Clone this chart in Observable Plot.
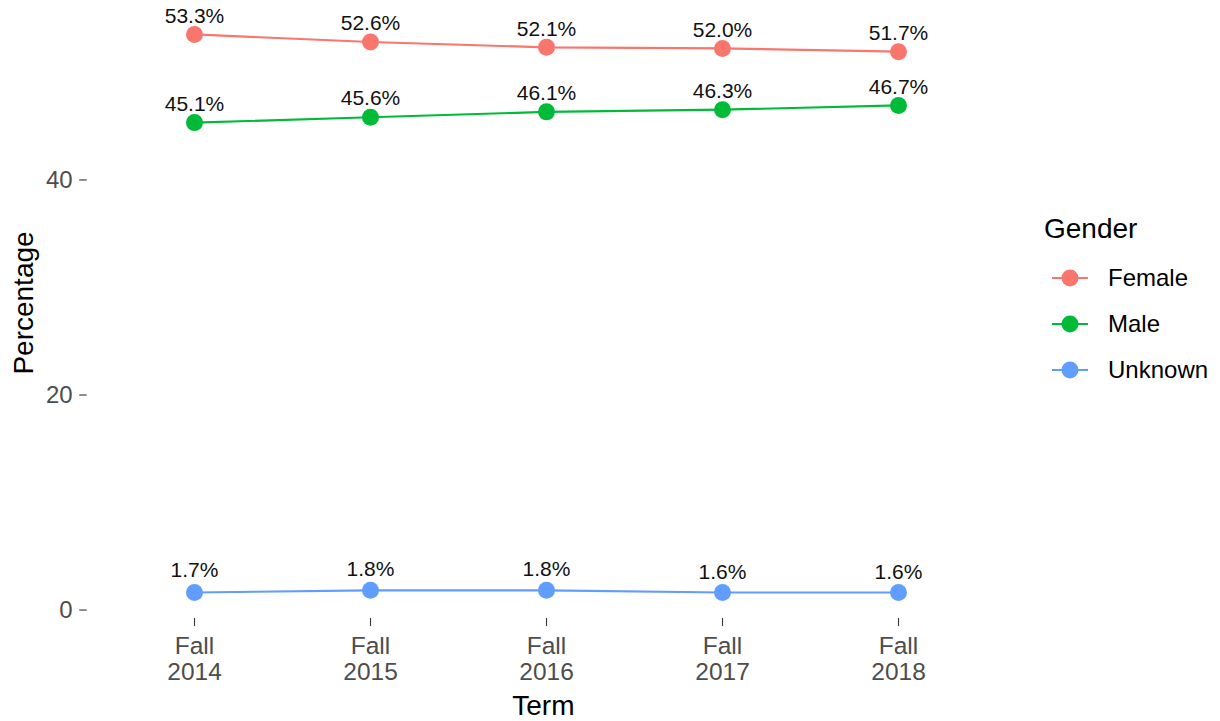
<!DOCTYPE html>
<html>
<head>
<meta charset="utf-8">
<script src="https://cdn.jsdelivr.net/npm/d3@7"></script>
<script src="https://cdn.jsdelivr.net/npm/@observablehq/plot@0.6"></script>
<style>
  html, body { margin: 0; padding: 0; background: #fff; }
  #wrap { position: relative; width: 1220px; height: 721px; font-family: "Liberation Sans", Arial, sans-serif; }
  #legend { position: absolute; left: 0; top: 0; pointer-events: none; }
</style>
</head>
<body>
<div id="wrap"></div>
<script>
// ---- data ----
const terms = ["Fall 2014", "Fall 2015", "Fall 2016", "Fall 2017", "Fall 2018"];
const genders = ["Female", "Male", "Unknown"];
const colors = ["#F8766D", "#00BA38", "#619CFF"];
const female = [53.3, 52.6, 52.1, 52.0, 51.7];
const male = [45.1, 45.6, 46.1, 46.3, 46.7];
const unknown = [1.4, 1.6, 1.6, 1.4, 1.4];
const femaleLabels = [53.3, 52.6, 52.1, 52.0, 51.7];
const maleLabels = [45.1, 45.6, 46.1, 46.3, 46.7];
const unknownLabels = [1.7, 1.8, 1.8, 1.6, 1.6];
const yTicks = [0, 20, 40];

const series = {Female: [female, femaleLabels], Male: [male, maleLabels], Unknown: [unknown, unknownLabels]};
const rows = [];
for (const g of genders) {
  const [vals, labs] = series[g];
  terms.forEach((t, i) => rows.push({term: t, gender: g, value: vals[i], label: labs[i]}));
}

const font = '"Liberation Sans", Arial, sans-serif';

const chart = Plot.plot({
  width: 1220,
  height: 721,
  marginLeft: 86.7,
  marginRight: 215,
  marginTop: 6,
  marginBottom: 103,
  style: {fontFamily: font, background: "#fff", overflow: "visible"},
  x: {type: "point", domain: terms, padding: 0.6, axis: null},
  y: {domain: [-1.02, 55.9], axis: null},
  color: {domain: genders, range: colors},
  marks: [
    Plot.axisX({
      tickSize: 8, tickPadding: 9.5, fontSize: 24.5, fill: "#4D4D4D", stroke: "#333333",
      strokeWidth: 1.1, lineHeight: 1.05, label: null,
      tickFormat: d => d.replace(" ", "\n")
    }),
    Plot.axisY({
      ticks: yTicks, tickSize: 7.5, tickPadding: 7, fontSize: 24, fill: "#4D4D4D", stroke: "#333333",
      strokeWidth: 1.1, label: null, dy: 2.5
    }),
    Plot.line(rows, {x: "term", y: "value", stroke: "gender", strokeWidth: 2.2}),
    Plot.dot(rows, {x: "term", y: "value", fill: "gender", r: 8.5}),
    Plot.text(rows, {
      x: "term", y: "label", text: d => d.label.toFixed(1) + "%",
      dy: -18.5, fontSize: 21, fill: "#111"
    }),
    Plot.text(["Term"], {frameAnchor: "bottom", textAnchor: "middle", lineAnchor: "middle", text: d => d, dy: 88, dx: -3, fontSize: 28, fill: "black"}),
    Plot.text(["Percentage"], {frameAnchor: "left", textAnchor: "middle", lineAnchor: "middle", text: d => d, rotate: -90, dx: -62.7, dy: -9.5, fontSize: 28, fill: "black"})
  ]
});

const wrap = document.getElementById("wrap");
wrap.appendChild(chart);

// ---- legend ----
const leg = d3.select(wrap).append("svg")
  .attr("id", "legend")
  .attr("width", 1220).attr("height", 721)
  .style("font-family", font);

leg.append("text")
  .attr("x", 1044).attr("y", 238)
  .attr("font-size", 28).attr("fill", "black")
  .text("Gender");

const items = leg.selectAll("g.item").data(genders).join("g")
  .attr("class", "item")
  .attr("transform", (d, i) => `translate(0, ${278 + i * 46})`);

items.append("line")
  .attr("x1", 1052).attr("x2", 1088).attr("y1", 0).attr("y2", 0)
  .attr("stroke", (d, i) => colors[i]).attr("stroke-width", 2.2);
items.append("circle")
  .attr("cx", 1070).attr("cy", 0).attr("r", 8.5)
  .attr("fill", (d, i) => colors[i]);
items.append("text")
  .attr("x", 1108).attr("y", 0).attr("dy", "0.35em")
  .attr("font-size", 24).attr("fill", "black")
  .text(d => d);
</script>
</body>
</html>
